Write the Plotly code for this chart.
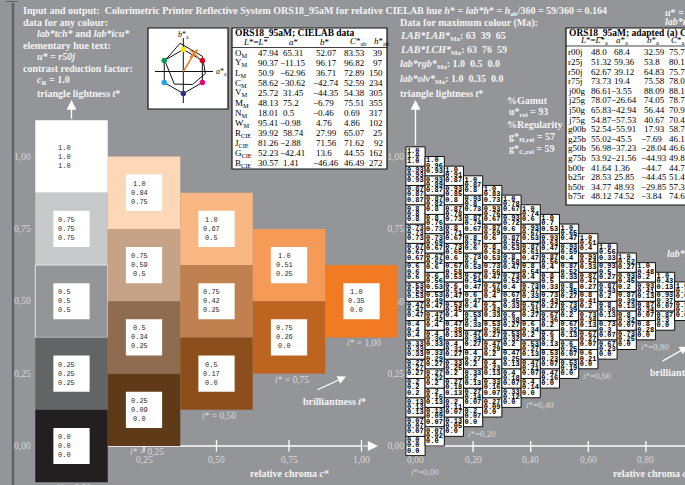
import math
import plotly.graph_objects as go

# ---------------- chart values ----------------
# Left panel: relative chroma c* of each column, lightness t* of its cells
left_chroma = [0.00, 0.25, 0.50, 0.75, 1.00]
left_lightness = [
    [1.000, 0.750, 0.500, 0.250, 0.000],
    [0.875, 0.625, 0.375, 0.125],
    [0.750, 0.500, 0.250],
    [0.625, 0.375],
    [0.500],
]
# olv* values printed in each cell
left_olv = [
    [("1.0", "1.0", "1.0"), ("0.75", "0.75", "0.75"), ("0.5", "0.5", "0.5"),
     ("0.25", "0.25", "0.25"), ("0.0", "0.0", "0.0")],
    [("1.0", "0.84", "0.75"), ("0.75", "0.59", "0.5"), ("0.5", "0.34", "0.25"),
     ("0.25", "0.09", "0.0")],
    [("1.0", "0.67", "0.5"), ("0.75", "0.42", "0.25"), ("0.5", "0.17", "0.0")],
    [("1.0", "0.51", "0.25"), ("0.75", "0.26", "0.0")],
    [("1.0", "0.35", "0.0")],
]
left_fill = [
    ["#FFFFFF", "#C8C9CB", "#939598", "#636466", "#231F20"],
    ["#FCD7B8", "#C6A287", "#8F6B50", "#5F3A18"],
    ["#F9B783", "#C1804F", "#8C4E1A"],
    ["#F59A57", "#BE6421"],
    ["#F07B23"],
]
left_brilliance = ["0,00", "0,25", "0,50", "0,75", "1,00"]
left_xtick_vals = [0.25, 0.50, 0.75, 1.00]
left_xtick_text = ["0,25", "0,50", "0,75", "1,00"]

lightness_tick_vals = [0.00, 0.25, 0.50, 0.75, 1.00]
lightness_tick_text = ["0,00", "0,25", "0,50", "0,75", "1,00"]

# Right panel: 16 columns, values listed bottom -> top
right_o = [
    [0.0, 0.07, 0.13, 0.2, 0.27, 0.33, 0.4, 0.47, 0.53, 0.6, 0.67, 0.73, 0.8, 0.87, 0.93, 1.0],
    [0.07, 0.13, 0.2, 0.27, 0.33, 0.4, 0.47, 0.53, 0.6, 0.67, 0.73, 0.8, 0.87, 0.93, 1.0],
    [0.13, 0.2, 0.27, 0.33, 0.4, 0.47, 0.53, 0.6, 0.67, 0.73, 0.8, 0.87, 0.93, 1.0],
    [0.2, 0.27, 0.33, 0.4, 0.47, 0.53, 0.6, 0.67, 0.73, 0.8, 0.87, 0.93, 1.0],
    [0.27, 0.33, 0.4, 0.47, 0.53, 0.6, 0.67, 0.73, 0.8, 0.87, 0.93, 1.0],
    [0.33, 0.4, 0.47, 0.53, 0.6, 0.67, 0.73, 0.8, 0.87, 0.93, 1.0],
    [0.4, 0.47, 0.53, 0.6, 0.67, 0.73, 0.8, 0.87, 0.93, 1.0],
    [0.47, 0.53, 0.6, 0.67, 0.73, 0.8, 0.87, 0.93, 1.0],
    [0.53, 0.6, 0.67, 0.73, 0.8, 0.87, 0.93, 1.0],
    [0.6, 0.67, 0.73, 0.8, 0.87, 0.93, 1.0],
    [0.67, 0.73, 0.8, 0.87, 0.93, 1.0],
    [0.73, 0.8, 0.87, 0.93, 1.0],
    [0.8, 0.87, 0.93, 1.0],
    [0.87, 0.93, 1.0],
    [0.93, 1.0],
    [1.0],
]
right_l = [
    [0.0, 0.07, 0.13, 0.2, 0.27, 0.33, 0.4, 0.47, 0.53, 0.6, 0.67, 0.73, 0.8, 0.87, 0.93, 1.0],
    [0.02, 0.09, 0.16, 0.22, 0.29, 0.36, 0.42, 0.49, 0.56, 0.62, 0.69, 0.76, 0.82, 0.89, 0.96],
    [0.05, 0.11, 0.18, 0.25, 0.31, 0.38, 0.45, 0.51, 0.58, 0.65, 0.71, 0.78, 0.85, 0.91],
    [0.07, 0.14, 0.2, 0.27, 0.34, 0.4, 0.47, 0.54, 0.6, 0.67, 0.74, 0.8, 0.87],
    [0.09, 0.16, 0.23, 0.29, 0.36, 0.43, 0.49, 0.56, 0.63, 0.69, 0.76, 0.83],
    [0.12, 0.18, 0.25, 0.32, 0.38, 0.45, 0.52, 0.58, 0.65, 0.72, 0.78],
    [0.14, 0.21, 0.27, 0.34, 0.41, 0.47, 0.54, 0.61, 0.67, 0.74],
    [0.16, 0.23, 0.3, 0.36, 0.43, 0.5, 0.56, 0.63, 0.7],
    [0.19, 0.25, 0.32, 0.39, 0.45, 0.52, 0.59, 0.65],
    [0.21, 0.27, 0.34, 0.41, 0.47, 0.54, 0.61],
    [0.23, 0.3, 0.36, 0.43, 0.5, 0.56],
    [0.25, 0.32, 0.39, 0.45, 0.52],
    [0.28, 0.34, 0.41, 0.48],
    [0.3, 0.37, 0.43],
    [0.32, 0.39],
    [0.35],
]
right_v = [
    [0.0, 0.07, 0.13, 0.2, 0.27, 0.33, 0.4, 0.47, 0.53, 0.6, 0.67, 0.73, 0.8, 0.87, 0.93, 1.0],
    [0.0, 0.07, 0.13, 0.2, 0.27, 0.33, 0.4, 0.47, 0.53, 0.6, 0.67, 0.73, 0.8, 0.87, 0.93],
    [0.0, 0.07, 0.13, 0.2, 0.27, 0.33, 0.4, 0.47, 0.53, 0.6, 0.67, 0.73, 0.8, 0.87],
    [0.0, 0.07, 0.13, 0.2, 0.27, 0.33, 0.4, 0.47, 0.53, 0.6, 0.67, 0.73, 0.8],
    [0.0, 0.07, 0.13, 0.2, 0.27, 0.33, 0.4, 0.47, 0.53, 0.6, 0.67, 0.73],
    [0.0, 0.07, 0.13, 0.2, 0.27, 0.33, 0.4, 0.47, 0.53, 0.6, 0.67],
    [0.0, 0.07, 0.13, 0.2, 0.27, 0.33, 0.4, 0.47, 0.53, 0.6],
    [0.0, 0.07, 0.13, 0.2, 0.27, 0.33, 0.4, 0.47, 0.53],
    [0.0, 0.07, 0.13, 0.2, 0.27, 0.33, 0.4, 0.47],
    [0.0, 0.07, 0.13, 0.2, 0.27, 0.33, 0.4],
    [0.0, 0.07, 0.13, 0.2, 0.27, 0.33],
    [0.0, 0.07, 0.13, 0.2, 0.27],
    [0.0, 0.07, 0.13, 0.2],
    [0.0, 0.07, 0.13],
    [0.0, 0.07],
    [0.0],
]
right_xtick_vals = [0.0, 0.2, 0.4, 0.6, 0.8]
right_xtick_text = ["0,00", "0,20", "0,40", "0,60", "0,80"]
right_brilliance_cols = [0, 3, 6, 9, 12]
right_brilliance_text = ["0,00", "0,20", "0,40", "0,60", "0,80"]

# CIELAB data table
cie_names = ["O", "Y", "L", "C", "V", "M", "N", "W", "R", "J", "G", "B"]
cie_sub = ["M", "M", "M", "M", "M", "M", "M", "M", "CIE", "CIE", "CIE", "CIE"]
cie_L = [47.94, 90.37, 50.9, 58.62, 25.72, 48.13, 18.01, 95.41, 39.92, 81.26, 52.23, 30.57]
cie_a = [65.31, -11.15, -62.96, -30.62, 31.45, 75.2, 0.5, -0.98, 58.74, -2.88, -42.41, 1.41]
cie_b = [52.07, 96.17, 36.71, -42.74, -44.35, -6.79, -0.46, 4.76, 27.99, 71.56, 13.6, -46.46]
cie_C = [83.53, 96.82, 72.89, 52.59, 54.38, 75.51, 0.69, 4.86, 65.07, 71.62, 44.55, 46.49]
cie_h = [39, 97, 150, 234, 305, 355, 317, 102, 25, 92, 162, 272]

# adapted CIELAB data table
ad_names = ["r00j", "r25j", "r50j", "r75j", "j00g", "j25g", "j50g", "j75g",
            "g00b", "g25b", "g50b", "g75b", "b00r", "b25r", "b50r", "b75r"]
ad_L = [48.0, 51.32, 62.67, 73.73, 86.61, 78.07, 65.83, 54.87,
        52.54, 55.02, 56.98, 53.92, 41.64, 28.53, 34.77, 48.12]
ad_a = [68.4, 59.36, 39.12, 19.4, -3.55, -26.64, -42.94, -57.53,
        -55.91, -45.5, -37.23, -21.56, 1.36, 25.85, 48.93, 74.52]
ad_b = [32.59, 53.8, 64.83, 75.58, 88.09, 74.05, 56.44, 40.67,
        17.93, -7.69, -28.04, -44.93, -44.7, -44.45, -29.85, -3.84]
ad_C = [75.77, 80.11, 75.72, 78.03, 88.16, 78.7, 70.92, 70.45,
        58.71, 46.15, 46.61, 49.83, 44.72, 51.42, 57.32, 74.62]

# hue diagram: elementary display hues and the hue of this page
hue_angles = [90, 30, -30, -90, -150, 150]
hue_colors = ["#FFE600", "#E3001B", "#E5007D", "#2B3088", "#1EA5E0", "#00A04B"]
page_hue = 59

# ---------------- page geometry (pixels) ----------------
W, H = 685, 485
BG = "#939598"
WHITE = "#FFFFFF"
LABEL = "#F4F4F4"
SOFT = "#D8D9DA"
SERIF = "Liberation Serif"
MONO = "Liberation Mono"

LX0, LSX = 71.5, 290.0      # left panel:  x_px = LX0 + c * LSX
RX0, RSX = 415.5, 288.0     # right panel: x_px = RX0 + c * RSX
Y0, SY = 446.0, 289.5       # both panels: y_px = Y0 - t * SY
LSTEP = 0.25
RSTEP = 1.0 / 15
TABLE_FONT = 9
MINUS_HANG = 3.5            # negative numbers start left of the column


def fx(px):
    return px / W


def fy(py):
    return 1 - py / H


def t_of(py):
    return (Y0 - py) / SY


def lc_of(px):
    return (px - LX0) / LSX


def rc_of(px):
    return (px - RX0) / RSX


def num(v):
    return f"{v}".replace("-", "\u2212")


shapes = []
annotations = []


def note(x, y, text, size=10, color=LABEL, xanchor="left", family=SERIF,
         xref="paper", yref="paper", **kw):
    annotations.append(dict(x=x, y=y, xref=xref, yref=yref, text=text,
                            showarrow=False, xanchor=xanchor, yanchor="middle",
                            font=dict(family=family, size=size, color=color), **kw))


def ptext(xpx, ypx, text, **kw):
    note(fx(xpx), fy(ypx), text, **kw)


def cell(xpx, ypx, v, **kw):
    ptext(xpx - (MINUS_HANG if v < 0 else 0), ypx, num(v), **kw)


def arrow(x, y, ax, ay, xref, yref, size=1.4, width=1.2):
    annotations.append(dict(x=x, y=y, ax=ax, ay=ay, xref=xref, yref=yref,
                            axref=xref, ayref=yref, text="", showarrow=True,
                            arrowhead=2, arrowsize=size, arrowwidth=width,
                            arrowcolor=WHITE))


# ---------------- frame ----------------
shapes.append(dict(type="line", xref="paper", yref="paper", x0=fx(13), x1=fx(13),
                   y0=fy(3), y1=0, line=dict(color="#606164", width=2.4), layer="below"))
shapes.append(dict(type="line", xref="paper", yref="paper", x0=fx(6), x1=fx(18),
                   y0=fy(1.5), y1=fy(1.5), line=dict(color="#606164", width=1), layer="below"))

# ---------------- header texts ----------------
ptext(21, 11.5, "<b>Input and output:&nbsp; Colorimetric Printer Reflective System ORS18_95aM "
      "for relative CIELAB hue <i>h</i>* = <i>lab*h</i>* = <i>h</i><sub>ab</sub>/360 = 59/360 = 0.164</b>")
ptext(663, 12, "<b><i>u</i>* = r50j</b>")
ptext(663, 22, "<b><i>lab*rgb*</i></b>")

ptext(21, 22.5, "<b>data for any colour:</b>")
ptext(35, 33.5, "<b><i>lab*tch*</i> and <i>lab*icu*</i></b>")
ptext(21, 45, "<b>elementary hue text:</b>")
ptext(35, 56.5, "<b><i>u* = r50j</i></b>")
ptext(21, 68.5, "<b>contrast reduction factor:</b>")
ptext(35, 80.5, "<b><i>c</i><sub>R</sub> = 1.0</b>")
ptext(35, 94, "<b>triangle lightness <i>t</i>*</b>")

ptext(398, 22.5, "<b>Data for maximum colour (Ma):</b>")
ptext(398, 36.5, "<b><i>LAB*LAB*</i><sub>Ma</sub>: 63&nbsp; 39&nbsp; 65</b>")
ptext(398, 50.5, "<b><i>LAB*LCH*</i><sub>Ma</sub>: 63&nbsp; 76&nbsp; 59</b>")
ptext(398, 65, "<b><i>lab*rgb*</i><sub>Ma</sub>: 1.0&nbsp; 0.5&nbsp; 0.0</b>")
ptext(398, 79.5, "<b><i>lab*olv*</i><sub>Ma</sub>: 1.0&nbsp; 0.35&nbsp; 0.0</b>")
ptext(398, 94, "<b>triangle lightness <i>t</i>*</b>")

ptext(505, 100.5, "<b>%Gamut</b>")
ptext(507, 112.5, "<b>u*<sub>rel</sub> = 93</b>")
ptext(505, 125, "<b>%Regularity</b>")
ptext(507, 137.5, "<b>g*<sub>H,rel</sub> = 57</b>")
ptext(507, 149, "<b>g*<sub>C,rel</sub> = 59</b>")

# ---------------- CIELAB table ----------------
ink = "#000000"
shapes.append(dict(type="rect", xref="paper", yref="paper", x0=fx(232), x1=fx(387),
                   y0=fy(169), y1=fy(28), fillcolor=WHITE,
                   line=dict(color="#111111", width=1.2), layer="below"))
shapes.append(dict(type="line", xref="paper", yref="paper", x0=fx(232), x1=fx(387),
                   y0=fy(47.5), y1=fy(47.5), line=dict(color="#111111", width=0.8), layer="below"))
ptext(232.5, 33.5, "<b>ORS18_95aM; CIELAB data</b>", color=ink, size=9.5)
for xpx, head in zip([241, 287, 318, 348, 372],
                     ["<i>L</i>*=<i>L</i>*", "<i>a</i>*", "<i>b</i>*",
                      "<i>C</i>*<sub>ab</sub>", "<i>h</i>*<sub>ab</sub>"]):
    ptext(xpx, 41.5, head, color=ink, size=TABLE_FONT)
for i, name in enumerate(cie_names):
    ypx = 53 + 10 * i
    ptext(233, ypx, f"{name}<sub>{cie_sub[i]}</sub>", color=ink, size=TABLE_FONT)
    cell(256, ypx, cie_L[i], color=ink, size=TABLE_FONT)
    cell(281, ypx, cie_a[i], color=ink, size=TABLE_FONT)
    cell(314, ypx, cie_b[i], color=ink, size=TABLE_FONT)
    cell(342, ypx, cie_C[i], color=ink, size=TABLE_FONT)
    ptext(385, ypx, num(cie_h[i]), color=ink, size=TABLE_FONT, xanchor="right")

# ---------------- adapted CIELAB table ----------------
shapes.append(dict(type="rect", xref="paper", yref="paper", x0=fx(566), x1=fx(760),
                   y0=fy(205), y1=fy(28), fillcolor=WHITE,
                   line=dict(color="#111111", width=1.2), layer="below"))
shapes.append(dict(type="line", xref="paper", yref="paper", x0=fx(566), x1=fx(760),
                   y0=fy(46), y1=fy(46), line=dict(color="#111111", width=0.8), layer="below"))
ptext(566.5, 33.5, "<b>ORS18_95aM; adapted (a) CIELAB data</b>", color=ink, size=9.5)
for xpx, head in zip([578, 614, 645, 669],
                     ["<i>L</i>*=<i>L</i>*<sub>a</sub>", "<i>a</i>*<sub>a</sub>",
                      "<i>b</i>*<sub>a</sub>", "<i>C</i>*<sub>a</sub>"]):
    ptext(xpx, 40.5, head, color=ink, size=TABLE_FONT)
for i, name in enumerate(ad_names):
    ypx = 52.3 + 9.6 * i
    ptext(566, ypx, name, color=ink, size=TABLE_FONT)
    cell(589, ypx, ad_L[i], color=ink, size=TABLE_FONT)
    cell(612, ypx, ad_a[i], color=ink, size=TABLE_FONT)
    cell(642, ypx, ad_b[i], color=ink, size=TABLE_FONT)
    cell(667, ypx, ad_C[i], color=ink, size=TABLE_FONT)

# ---------------- hue diagram ----------------
HCX, HCY, HR = 183.3, 71.5, 22.0
shapes.append(dict(type="rect", xref="paper", yref="paper", x0=fx(148), x1=fx(228),
                   y0=fy(109), y1=fy(28), fillcolor=WHITE,
                   line=dict(color="#111111", width=1.2), layer="below"))

# ---------------- left panel ----------------
line_w = dict(color=WHITE, width=1.3)
shapes.append(dict(type="line", xref="x", yref="y", x0=0, x1=1.0, y0=0, y1=0,
                   line=line_w, layer="above"))
for c in left_xtick_vals:
    shapes.append(dict(type="line", xref="x", yref="y", x0=c, x1=c,
                       y0=t_of(451.5), y1=t_of(440), line=line_w, layer="above"))
arrow(lc_of(378), 0, 1.0, 0, "x", "y", size=1.7, width=1.2)

for c, ts, fills, labels, i_txt in zip(left_chroma, left_lightness, left_fill,
                                       left_olv, left_brilliance):
    for t, fill, lab in zip(ts, fills, labels):
        edge = dict(color="#E4E4E4", width=1) if fill == BG else dict(width=0)
        shapes.append(dict(type="rect", xref="x", yref="y",
                           x0=c - LSTEP / 2, x1=c + LSTEP / 2,
                           y0=t - LSTEP / 2, y1=t + LSTEP / 2,
                           fillcolor=fill, line=edge, layer="above"))
        shapes.append(dict(type="rect", xref="x", yref="y",
                           x0=c - LSTEP / 4, x1=c + LSTEP / 4,
                           y0=t - LSTEP / 4, y1=t + LSTEP / 4,
                           fillcolor=WHITE, line=dict(width=0), layer="above"))
        note(c - LSTEP / 4, t, "<br>".join(lab), size=7, color="#2A2A2A",
             family=MONO, xref="x", yref="y", xshift=3)
    note(c + 2.5 / LSX, min(ts) - LSTEP / 2, f"<i>i</i>* = {i_txt}", size=9.5,
         color=SOFT, xanchor="center", xref="x", yref="y", yshift=-6)

for t, lab in zip(lightness_tick_vals, lightness_tick_text):
    note(fx(32.5), t, lab, size=9.5, color=SOFT, xanchor="right", yref="y")
for c, lab in zip(left_xtick_vals, left_xtick_text):
    note(c, fy(460), lab, size=9.5, color=SOFT, xanchor="center", xref="x")
note(0.75, fy(473), "<b>relative chroma <i>c</i>*</b>", xanchor="center", xref="x")
note(lc_of(334), t_of(401), "<b>brilliantness <i>i</i>*</b>", xanchor="center",
     xref="x", yref="y")
arrow(lc_of(346), t_of(376.5), lc_of(316), t_of(390.5), "x", "y", size=1.4, width=1.2)
arrow(0, t_of(100), 0, left_lightness[0][0] + LSTEP / 2, "x", "y", size=1.5, width=1.3)

# ---------------- right panel ----------------
shapes.append(dict(type="line", xref="x2", yref="y", x0=0, x1=1.05, y0=0, y1=0,
                   line=line_w, layer="below"))
for c in right_xtick_vals[1:]:
    shapes.append(dict(type="line", xref="x2", yref="y", x0=c, x1=c,
                       y0=t_of(452), y1=t_of(441), line=line_w, layer="below"))

tx, ty, tt = [], [], []
LINE_PX = (-5.6, -0.4, 4.8)
for k, (os_, ls_, vs_) in enumerate(zip(right_o, right_l, right_v)):
    c = k * RSTEP
    for j, vals in enumerate(zip(os_, ls_, vs_)):
        t = j * RSTEP + c / 2
        shapes.append(dict(type="rect", xref="x2", yref="y",
                           x0=c - RSTEP / 2, x1=c + RSTEP / 2,
                           y0=t - RSTEP / 2, y1=t + RSTEP / 2,
                           fillcolor=WHITE, line=dict(color="#111111", width=1),
                           layer="below"))
        for dy, v in zip(LINE_PX, vals):
            tx.append(c - RSTEP / 2 + 1.0 / RSX)
            ty.append(t - dy / SY)
            tt.append(f"{v}")

for c, lab in zip(right_xtick_vals, right_xtick_text):
    note(c, fy(460), lab, size=9.5, color=SOFT, xanchor="center", xref="x2")
for k, lab, shift in zip(right_brilliance_cols, right_brilliance_text,
                         [-16, -7.5, -7.5, -7.5, -7.5]):
    c = k * RSTEP
    note(c + 9 / RSX, c / 2 - RSTEP / 2, f"<i>i</i>*={lab}", size=9, color=SOFT,
         xanchor="center", xref="x2", yref="y", yshift=shift)
note(rc_of(611), fy(473.5), "<b>relative chroma <i>c</i>*</b>", xref="x2")
note(rc_of(648), t_of(372.5), "<b>brilliantness <i>i</i>*</b>", xref="x2", yref="y")
note(rc_of(665), t_of(253), "<b><i>lab*rgb*</i></b>", xref="x2", yref="y")
arrow(rc_of(688), t_of(346.5), rc_of(661), t_of(362), "x2", "y", size=1.4, width=1.2)
arrow(0, t_of(100), 0, 1.0 + RSTEP / 2, "x2", "y", size=1.5, width=1.3)

# ---------------- figure ----------------
fig = go.Figure()
fig.add_trace(go.Scatter(x=[None], y=[None], xaxis="x", yaxis="y", showlegend=False))
fig.add_trace(go.Scatter(x=tx, y=ty, text=tt, mode="text", textposition="middle right",
                         textfont=dict(family=MONO, size=7, color="#000000",
                                       weight="bold"),
                         xaxis="x2", yaxis="y", hoverinfo="skip", cliponaxis=False,
                         showlegend=False))

# hue diagram traces (unit = radius of the display-hue hexagon)
hx = [math.cos(math.radians(a)) for a in hue_angles]
hy = [math.sin(math.radians(a)) for a in hue_angles]
fig.add_trace(go.Scatter(x=[-1.29, 1.35, None, 0, 0], y=[0, 0, None, -1.43, 1.52],
                         mode="lines", line=dict(color="#111111", width=1),
                         xaxis="x3", yaxis="y3", hoverinfo="skip", showlegend=False))
fig.add_trace(go.Scatter(x=hx + hx[:1], y=hy + hy[:1], mode="lines",
                         line=dict(color="#111111", width=1),
                         xaxis="x3", yaxis="y3", hoverinfo="skip", showlegend=False))
GAMUT = 1 / 75.0
gx = [a * GAMUT for a in cie_a[:6]]
gy = [b * GAMUT for b in cie_b[:6]]
fig.add_trace(go.Scatter(x=gx + gx[:1], y=gy + gy[:1], mode="lines",
                         line=dict(color="#111111", width=1),
                         xaxis="x3", yaxis="y3", hoverinfo="skip", showlegend=False))
fig.add_trace(go.Scatter(x=hx, y=hy, mode="markers",
                         marker=dict(color=hue_colors, size=5.5, line=dict(width=0)),
                         xaxis="x3", yaxis="y3", hoverinfo="skip", showlegend=False))
ux, uy = math.cos(math.radians(page_hue)), math.sin(math.radians(page_hue))
fig.add_trace(go.Scatter(x=[0, 1.12 * ux], y=[0, 1.12 * uy], mode="lines",
                         line=dict(color="#F07B23", width=1.5),
                         xaxis="x3", yaxis="y3", hoverinfo="skip", showlegend=False))
fig.add_trace(go.Scatter(x=[0.95 * ux], y=[0.95 * uy], mode="markers",
                         marker=dict(symbol="x-thin", size=8,
                                     line=dict(color="#F07B23", width=1.5)),
                         xaxis="x3", yaxis="y3", hoverinfo="skip", showlegend=False))
note(0, (HCY - 35) / HR, "<i>b</i>*<sub>a</sub>", size=8, color="#111111",
     xanchor="center", xref="x3", yref="y3")
note((221 - HCX) / HR, 0, "<i>a</i>*<sub>a</sub>", size=8, color="#111111",
     xanchor="center", xref="x3", yref="y3")

fig.update_layout(
    width=W, height=H, margin=dict(l=0, r=0, t=0, b=0),
    paper_bgcolor=BG, plot_bgcolor="rgba(0,0,0,0)",
    showlegend=False, hovermode=False,
    xaxis=dict(domain=[0, 1], range=[lc_of(0), lc_of(W)], visible=False,
               anchor="y", fixedrange=True),
    xaxis2=dict(domain=[0, 1], range=[rc_of(0), rc_of(W)], visible=False,
                overlaying="x", anchor="y", fixedrange=True),
    yaxis=dict(domain=[0, 1], range=[t_of(H), t_of(0)], anchor="free",
               position=fx(404), side="left", showgrid=False, zeroline=False,
               showline=False, ticks="", tickvals=lightness_tick_vals,
               ticktext=lightness_tick_text,
               tickfont=dict(family=SERIF, size=9.5, color=SOFT), fixedrange=True),
    xaxis3=dict(domain=[fx(148), fx(228)],
                range=[(148 - HCX) / HR, (228 - HCX) / HR], visible=False,
                anchor="y3", fixedrange=True),
    yaxis3=dict(domain=[fy(109), fy(28)],
                range=[(HCY - 109) / HR, (HCY - 28) / HR], visible=False,
                anchor="x3", fixedrange=True),
    shapes=shapes, annotations=annotations,
)

fig.write_html("out.html")
